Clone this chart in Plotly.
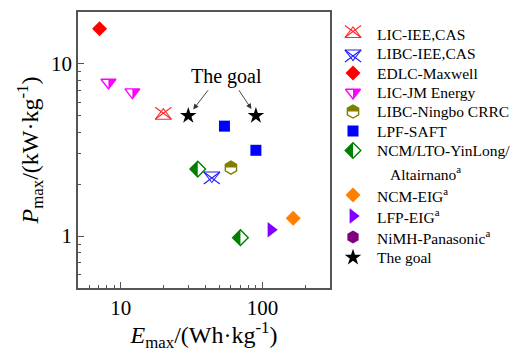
import math
import plotly.graph_objects as go

SERIF = "Liberation Serif"

# ---- maximum specific energy (Wh/kg) and maximum specific power (kW/kg) ----
E_lic_iee = [20.0]
P_lic_iee = [5.0]
E_libc_iee = [44.0]
P_libc_iee = [2.25]
E_edlc = [7.1]
P_edlc = [16.0]
E_lic_jm = [8.2, 12.1]
P_lic_jm = [7.8, 6.85]
E_ningbo = [60.0]
P_ningbo = [2.5]
E_saft = [54.0, 90.0]
P_saft = [4.35, 3.15]
E_ncm_lto = [35.0, 70.0]
P_ncm_lto = [2.45, 0.98]
E_ncm_eig = [165.0]
P_ncm_eig = [1.27]
E_lfp_eig = [115.0]
P_lfp_eig = [1.09]
E_nimh = []
P_nimh = []
E_goal = [30.0, 90.0]
P_goal = [5.0, 5.0]

labels = ["LIC-IEE,CAS", "LIBC-IEE,CAS", "EDLC-Maxwell", "LIC-JM Energy",
          "LIBC-Ningbo CRRC", "LPF-SAFT", "NCM/LTO-YinLong/",
          "NCM-EIG<sup>a</sup>", "LFP-EIG<sup>a</sup>",
          "NiMH-Panasonic<sup>a</sup>", "The goal"]
label_cont = "Altairnano<sup>a</sup>"

series = [
    dict(E=E_lic_iee, P=P_lic_iee, color="#FF2A2A", kind="xtri_up"),
    dict(E=E_libc_iee, P=P_libc_iee, color="#1F1FFF", kind="xtri_down"),
    dict(E=E_edlc, P=P_edlc, color="#FF0000", kind="diamond"),
    dict(E=E_lic_jm, P=P_lic_jm, color="#FF00FF", kind="tri_down_half"),
    dict(E=E_ningbo, P=P_ningbo, color="#808000", kind="hex_half"),
    dict(E=E_saft, P=P_saft, color="#0000FF", kind="square"),
    dict(E=E_ncm_lto, P=P_ncm_lto, color="#008000", kind="diamond_half"),
    dict(E=E_ncm_eig, P=P_ncm_eig, color="#FF8000", kind="diamond"),
    dict(E=E_lfp_eig, P=P_lfp_eig, color="#8000FF", kind="tri_right"),
    dict(E=E_nimh, P=P_nimh, color="#800080", kind="hexagon"),
    dict(E=E_goal, P=P_goal, color="#000000", kind="star"),
]

# plotly symbol, marker size, outline width
SYMBOLS = {
    "xtri_up": ("triangle-up-open", 14, 1.1),
    "xtri_down": ("triangle-down-open", 14, 1.1),
    "diamond": ("diamond", 11.5, 0),
    "tri_down_half": ("triangle-down-open", 13, 1.4),
    "hex_half": ("hexagon-open", 13, 1.4),
    "square": ("square", 11, 0),
    "diamond_half": ("diamond-open", 12, 1.4),
    "tri_right": ("triangle-right", 13.5, 0),
    "hexagon": ("hexagon", 13, 0),
    "star": ("star", 12.5, 0),
}


def overlay_path(kind, size):
    """Extra pixel-sized path drawn on top of the base plotly symbol."""
    r = size / 2.0
    if kind == "xtri_up":
        hw = r * 2 / math.sqrt(3)
        lo, hi = -r / 2, r + 1.5
        return f"M{-hw},{lo}L{hw},{hi}M{hw},{lo}L{-hw},{hi}", False
    if kind == "xtri_down":
        hw = r * 2 / math.sqrt(3)
        lo, hi = -r - 1.5, r / 2
        return f"M{-hw},{hi}L{hw},{lo}M{hw},{hi}L{-hw},{lo}", False
    if kind == "tri_down_half":
        rt = r * 2 / math.sqrt(3)
        return f"M0,{r/2}L{rt},{r/2}L0,{-r}Z", True
    if kind == "hex_half":
        rt = r * math.sqrt(3) / 2
        rh = r / 2
        return f"M{rt},0L{rt},{rh}L0,{r}L{-rt},{rh}L{-rt},0Z", True
    if kind == "diamond_half":
        rd = r * 1.3
        return f"M0,{rd}L{-rd},0L0,{-rd}Z", True
    return None, False


fig = go.Figure()


def draw(s, xs, ys, legend_axes=False):
    sym, size, lw = SYMBOLS[s["kind"]]
    c = s["color"]
    ax_kw = dict(xaxis="x2", yaxis="y2") if legend_axes else {}
    fig.add_trace(go.Scatter(
        x=xs, y=ys, mode="markers", showlegend=False, cliponaxis=False,
        hoverinfo="skip" if legend_axes else None,
        marker=dict(symbol=sym, size=size, color=c,
                    line=dict(color=c, width=lw)),
        **ax_kw))
    path, filled = overlay_path(s["kind"], size)
    if path is None:
        return
    xref, yref = ("x2", "y2") if legend_axes else ("x", "y")
    for x, y in zip(xs, ys):
        fig.add_shape(
            type="path", xref=xref, yref=yref,
            xsizemode="pixel", ysizemode="pixel", xanchor=x, yanchor=y,
            path=path,
            fillcolor=c if filled else "rgba(0,0,0,0)",
            line=dict(color=c, width=0 if filled else 1.1),
        )


for s in series:
    if s["E"]:
        draw(s, s["E"], s["P"])

# ---- legend drawn on a pixel-scaled overlay axis to the right of the box ----
LEG_SYM_X = 353
LEG_TXT_X = 375
leg_rows = [34, 53.5, 73, 92.5, 111.5, 131, 150.5, 195, 216, 237, 257.5]
cont_row = 172.5

for s, lab, yrow in zip(series, labels, leg_rows):
    draw(s, [LEG_SYM_X], [yrow], legend_axes=True)
    fig.add_annotation(x=LEG_TXT_X, y=yrow, xref="x2", yref="y2", text=lab,
                       showarrow=False, xanchor="left", yanchor="middle",
                       font=dict(family=SERIF, size=15.5, color="black"))
fig.add_annotation(x=LEG_TXT_X + 13, y=cont_row, xref="x2", yref="y2",
                   text=label_cont, showarrow=False, xanchor="left",
                   yanchor="middle",
                   font=dict(family=SERIF, size=15.5, color="black"))

# ---- "The goal" callout ----
goal_mid = math.sqrt(E_goal[0] * E_goal[1])
fig.add_annotation(x=math.log10(goal_mid), y=math.log10(P_goal[0]),
                   xref="x", yref="y", text="The goal", showarrow=False,
                   xshift=4, yshift=39,
                   font=dict(family=SERIF, size=20, color="black"))
for e, p, axp in zip(E_goal, P_goal, [21, -18]):
    fig.add_annotation(x=math.log10(e), y=math.log10(p), xref="x", yref="y",
                       text="", showarrow=True, ax=axp, ay=-27,
                       arrowhead=2, arrowsize=1.2, arrowwidth=0.9,
                       arrowcolor="#333333", standoff=8)

AX = "#555555"
x_minor = [v * 10 ** k for k in range(0, 3) for v in range(2, 10)]
y_minor = [v * 10 ** k for k in range(-1, 2) for v in range(2, 10)]

fig.update_layout(
    width=513, height=352,
    margin=dict(l=78, r=0, t=12, b=64),
    paper_bgcolor="white", plot_bgcolor="white",
    showlegend=False,
    xaxis=dict(
        type="log", domain=[0, 252 / 435],
        range=[math.log10(5), math.log10(300)],
        showline=True, linecolor=AX, linewidth=1.5, mirror=True,
        showgrid=False, zeroline=False,
        ticks="inside", ticklen=6, tickwidth=1, tickcolor=AX,
        tickvals=[10, 100], ticktext=["10", "100"],
        minor=dict(ticks="inside", ticklen=3, tickwidth=1, tickcolor=AX,
                   tickvals=x_minor, showgrid=False),
        tickfont=dict(family=SERIF, size=21, color="black"),
        title=dict(text="<i>E</i><sub>max</sub>/(Wh·kg<sup>-1</sup>)",
                   font=dict(family=SERIF, size=24, color="black"),
                   standoff=4),
    ),
    yaxis=dict(
        type="log", domain=[0, 1],
        range=[math.log10(0.5), math.log10(20)],
        showline=True, linecolor=AX, linewidth=1.5, mirror=True,
        showgrid=False, zeroline=False,
        ticks="inside", ticklen=6, tickwidth=1, tickcolor=AX,
        tickvals=[1, 10], ticktext=["1", "10"],
        minor=dict(ticks="inside", ticklen=3, tickwidth=1, tickcolor=AX,
                   tickvals=y_minor, showgrid=False),
        tickfont=dict(family=SERIF, size=21, color="black"),
        title=dict(text="<i>P</i><sub>max</sub>/(kW·kg<sup>-1</sup>)",
                   font=dict(family=SERIF, size=24, color="black"),
                   standoff=6),
    ),
    xaxis2=dict(domain=[252 / 435, 1], range=[330, 513], visible=False,
                anchor="y2", fixedrange=True),
    yaxis2=dict(domain=[0, 1], range=[288, 12], visible=False,
                anchor="x2", fixedrange=True),
)

fig.write_html("out.html")
